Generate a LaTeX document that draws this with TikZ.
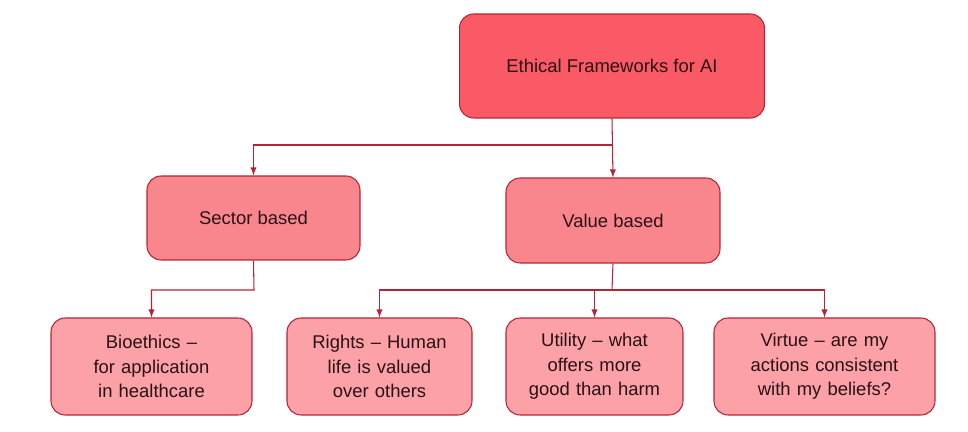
\documentclass[tikz,border=0pt]{standalone}
\usepackage{fontspec}
\setmainfont{Liberation Sans}
\usetikzlibrary{positioning}
\definecolor{topRed}{HTML}{FA5A66}
\definecolor{midRed}{HTML}{F9858D}
\definecolor{lowRed}{HTML}{FBA1A7}
\definecolor{lineRed}{HTML}{B52335}
\definecolor{txtDark}{HTML}{2A1214}
\tikzset{Box/.style={%
    shape=rectangle,%
    rounded corners=0.28cm,%
    draw=lineRed,%
    line width=0.6pt,%
    text=txtDark,%
    align=center,%
    inner sep=2pt,%
    font=\fontsize{10.5}{14}\selectfont,%
}}
\tikzset{Link/.style={%
    -latex,
    draw=lineRed,%
    line width=0.6pt,%
}}
\begin{document}
\begin{tikzpicture}[x=0.02cm,y=-0.02cm]
    \useasboundingbox (0,0) rectangle (968,432);
    \node[Box, fill=topRed, minimum width=6.1cm, minimum height=2.08cm] (frame) at (612,66) {Ethical Frameworks for AI};
    \node[Box, fill=midRed, minimum width=4.26cm, minimum height=1.68cm] (sector) at (253.5,218) {Sector based};
    \node[Box, fill=midRed, minimum width=4.28cm, minimum height=1.7cm] (value) at (613,220.5) {Value based};
    \node[Box, fill=lowRed, minimum width=4.02cm, minimum height=1.94cm, text width=3.3cm] (bio) at (151.5,366.5) {Bioethics -- for application in healthcare};
    \node[Box, fill=lowRed, minimum width=3.7cm, minimum height=1.94cm, text width=3.3cm] (rights) at (379.5,366.5) {Rights -- Human life is valued over others};
    \node[Box, fill=lowRed, minimum width=3.54cm, minimum height=1.94cm, text width=3.2cm] (utility) at (594.5,366.5) {Utility -- what offers more good than harm};
    \node[Box, fill=lowRed, minimum width=4.42cm, minimum height=1.94cm, text width=4.0cm] (virtue) at (824.5,366.5) {Virtue -- are my actions consistent with my beliefs?};

    \coordinate (j1) at (612,145);
    \coordinate (j2) at (254,290);
    \coordinate (j3) at (612,290);
    \draw[Link] (frame.south) -- (value.north);
    \draw[Link] (j1) -| (sector.north);
    \draw[Link] (sector.south) -- (j2) -| (bio.north);
    \draw[lineRed, line width=0.6pt] (value.south) -- (j3);
    \draw[Link] (j3) -| (rights.north);
    \draw[Link] (j3) -| (utility.north);
    \draw[Link] (j3) -| (virtue.north);
\end{tikzpicture}
\end{document}
